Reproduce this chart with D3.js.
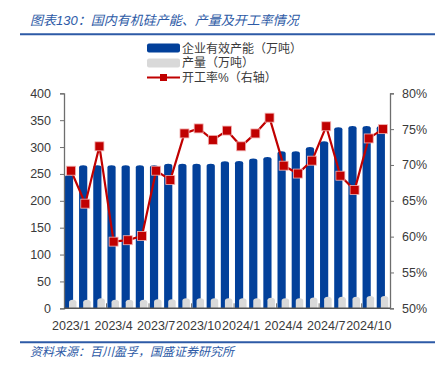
<!DOCTYPE html>
<html>
<head>
<meta charset="utf-8">
<script src="https://cdn.jsdelivr.net/npm/d3@7"></script>
<style>
  html, body { margin: 0; padding: 0; background: #fff; }
  svg { display: block; font-family: "Liberation Sans", Arial, "Noto Sans CJK SC", sans-serif; }
</style>
</head>
<body>
<svg id="chart" width="443" height="367"></svg>
<script>
const categories = ["2023/1","2023/2","2023/3","2023/4","2023/5","2023/6","2023/7","2023/8","2023/9","2023/10","2023/11","2023/12",
  "2024/1","2024/2","2024/3","2024/4","2024/5","2024/6","2024/7","2024/8","2024/9","2024/10","2024/11"];
const capacity = [248,266,266,266,266,266,266,269,269,269,269,273.5,274,278.5,281.5,292,292,300,311,337,339,339,339];
const production = [16,16,18.5,16,16,16,17,17,18.5,18.5,18.5,18.5,18.5,18.5,19.5,18.5,18.5,20,21.5,21.5,21.5,23,23];
const rate = [69.2,64.6,72.6,59.3,59.5,60.1,69.2,67.9,74.4,75.1,73.5,74.8,72.6,74.4,76.6,69.9,68.8,70.6,75.4,68.5,66.5,73.7,75.0];
const leftTicks = [0,50,100,150,200,250,300,350,400];
const rightTicks = [50,55,60,65,70,75,80];
const xLabels = ["2023/1","2023/4","2023/7","2023/10","2024/1","2024/4","2024/7","2024/10"];
const title = "图表130：国内有机硅产能、产量及开工率情况";
const source = "资料来源：百川盈孚，国盛证券研究所";
const legendItems = ["企业有效产能（万吨）","产量（万吨）","开工率%（右轴）"];

const svg = d3.select("#chart");
const L = 64, R = 390, T = 93.3, B = 308.3;
const x = d3.scaleBand().domain(categories).range([L, R]).padding(0);
const y = d3.scaleLinear().domain([0, 400]).range([B, T]);
const y2 = d3.scaleLinear().domain([50, 80]).range([B, T]);
const bw = x.bandwidth();

const blueC = "#02409A", greyC = "#D9D9D9", redC = "#C00000", txtC = "#3A3A3A", axisC = "#6E6E6E", headC = "#2D5AA6";
const fontMix = "\"Liberation Sans\", Arial, \"Noto Sans CJK SC\", sans-serif";

// title
svg.append("text").attr("x", 30).attr("y", 25).attr("font-size", 13).attr("font-style", "italic")
  .attr("fill", headC).attr("font-family", fontMix).text(title);
svg.append("line").attr("x1", 20).attr("x2", 435).attr("y1", 34.3).attr("y2", 34.3)
  .attr("stroke", headC).attr("stroke-width", 2);
svg.append("line").attr("x1", 20).attr("x2", 435).attr("y1", 342.3).attr("y2", 342.3)
  .attr("stroke", headC).attr("stroke-width", 2);
svg.append("text").attr("x", 30).attr("y", 356).attr("font-size", 12).attr("font-style", "italic")
  .attr("fill", headC).attr("font-family", fontMix).text(source);

// legend
const lg = svg.append("g").attr("font-family", fontMix);
lg.append("rect").attr("x", 147).attr("y", 43.5).attr("width", 33).attr("height", 9).attr("rx", 2).attr("fill", blueC);
lg.append("rect").attr("x", 147).attr("y", 58.5).attr("width", 33).attr("height", 9).attr("rx", 2).attr("fill", greyC);
lg.append("line").attr("x1", 147).attr("x2", 180).attr("y1", 77.5).attr("y2", 77.5).attr("stroke", redC).attr("stroke-width", 2);
lg.append("rect").attr("x", 160).attr("y", 74).attr("width", 7).attr("height", 7).attr("fill", redC);
legendItems.forEach((t, i) => {
  lg.append("text").attr("x", 182).attr("y", 52.5 + i * 14.8).attr("font-size", 12).attr("fill", txtC).text(t);
});

function topRounded(x0, y0, w, h, r) {
  r = Math.min(r, h);
  return `M${x0},${y0 + h}V${y0 + r}Q${x0},${y0} ${x0 + w / 2},${y0}Q${x0 + w},${y0} ${x0 + w},${y0 + r}V${y0 + h}Z`;
}

// bars
svg.append("g").selectAll("path").data(categories).join("path")
  .attr("d", (c, i) => topRounded(x(c) + 0.9, y(capacity[i]), 8.2, B - y(capacity[i]), 2.2))
  .attr("fill", blueC);
svg.append("g").selectAll("path").data(categories).join("path")
  .attr("d", (c, i) => topRounded(x(c) + 5, y(production[i]), 7.5, B - y(production[i]), 2.5))
  .attr("fill", greyC);

// axes
const axisL = svg.append("g").attr("transform", `translate(${L},0)`)
  .call(d3.axisLeft(y).tickValues(leftTicks).tickSize(4).tickPadding(9));
const axisR = svg.append("g").attr("transform", `translate(${R},0)`)
  .call(d3.axisRight(y2).tickValues(rightTicks).tickSize(4).tickPadding(8).tickFormat(d => d + "%"));
const bottomTicks = categories.filter((c, i) => i % 3 === 0);
const axisB = svg.append("g").attr("transform", `translate(0,${B})`)
  .call(d3.axisBottom(x).tickValues(xLabels).tickSize(0).tickPadding(13));
[axisL, axisR, axisB].forEach(a => {
  a.select(".domain").attr("stroke", axisC).attr("stroke-width", 1.3);
  a.selectAll(".tick line").attr("stroke", axisC);
  a.selectAll("text").attr("font-size", 12.5).attr("fill", txtC).attr("font-family", "\"Liberation Sans\", Arial, sans-serif");
});
axisB.select(".domain").attr("d", `M${L},0H${R}`).attr("stroke", "#555").attr("stroke-width", 1.6);
// inner ticks at every 3rd category boundary
svg.append("g").selectAll("line").data(bottomTicks.slice(1)).join("line")
  .attr("x1", c => x(c)).attr("x2", c => x(c)).attr("y1", B).attr("y2", B - 5)
  .attr("stroke", axisC).attr("stroke-width", 1);

// line
const cx = c => x(c) + bw / 2;
svg.append("path").datum(categories)
  .attr("d", d3.line().x(c => cx(c)).y((c, i) => y2(rate[i])))
  .attr("fill", "none").attr("stroke", redC).attr("stroke-width", 2.2);
svg.append("g").selectAll("rect").data(categories).join("rect")
  .attr("x", c => cx(c) - 4.5).attr("y", (c, i) => y2(rate[i]) - 4.5)
  .attr("width", 9).attr("height", 9)
  .attr("fill", redC).attr("stroke", "#F2B3B3").attr("stroke-width", 0.8);
</script>
</body>
</html>
